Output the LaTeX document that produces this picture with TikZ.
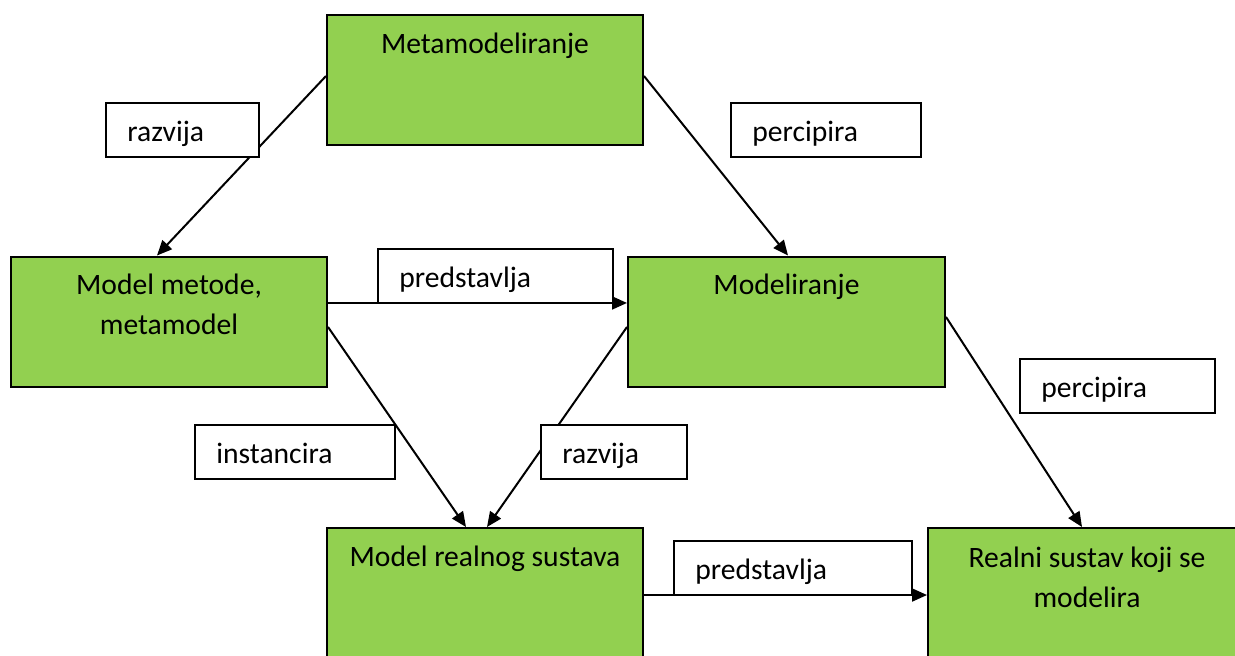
\documentclass[tikz,border=0pt]{standalone}
\usepackage{fontspec}
\setmainfont{Carlito}
\usetikzlibrary{arrows.meta,calc}
\definecolor{boxgreen}{RGB}{146,208,80}
\begin{document}
\begin{tikzpicture}[x=0.5pt,y=-0.5pt,
  gbox/.style={draw=black, line width=1pt, fill=boxgreen, inner sep=0pt},
  lbox/.style={draw=black, line width=1pt, fill=white, inner sep=0pt, minimum height=27pt},
  txt/.style={font=\fontsize{14.8pt}{17pt}\selectfont, inner sep=0pt, anchor=base},
  ltxt/.style={font=\fontsize{14.8pt}{17pt}\selectfont, inner sep=0pt, anchor=base west},
  arr/.style={line width=1pt, -{Triangle[length=7.5pt,width=6.5pt]}}]
\useasboundingbox (0,0) rectangle (1235,655);
\clip (0,0) rectangle (1235,655);
\fill[white] (0,0) rectangle (1235,655);

% green boxes
\node[gbox, minimum width=158pt, minimum height=65pt] (meta) at (485,80) {};
\node[gbox, minimum width=158pt, minimum height=65.25pt] (mm) at (169,321.75) {};
\node[gbox, minimum width=158.5pt, minimum height=65.25pt] (mod) at (786.5,321.75) {};
\node[gbox, minimum width=158pt, minimum height=71pt] (mr) at (485,599) {};
\node[gbox, minimum width=159pt, minimum height=71pt] (rs) at (1087,599) {};

% green box texts
\node[txt] (tmeta) at ($(meta.north)+(0,39)$) {Metamodeliranje};
\node[txt] (tmm1) at ($(mm.north)+(0,39)$) {Model metode,};
\node[txt] (tmm2) at ($(mm.north)+(0,79)$) {metamodel};
\node[txt] (tmod) at ($(mod.north)+(0,39)$) {Modeliranje};
\node[txt] (tmr) at ($(mr.north)+(0,39)$) {Model realnog sustava};
\node[txt] (trs1) at ($(rs.north)+(0,40)$) {Realni sustav koji se};
\node[txt] (trs2) at ($(rs.north)+(0,80)$) {modelira};

% connectors
\draw[arr] ([yshift=2pt]meta.west) -- ([xshift=-6pt]mm.north);
\draw[arr] ([yshift=2pt]meta.east) -- ([xshift=0.75pt]mod.north);
\draw[arr] ([yshift=9.4pt]mm.east) -- ([yshift=9.4pt]mod.west);
\draw[arr] ([yshift=-2.6pt]mm.east) -- ([xshift=-9.5pt]mr.north);
\draw[arr] ([yshift=-2.6pt]mod.west) -- ([xshift=1pt]mr.north);
\draw[arr] ([yshift=2.4pt]mod.east) -- ([xshift=-2.5pt]rs.north);
\draw[arr] ([yshift=2pt]mr.east) -- ([yshift=2pt]rs.west);

% label boxes
\node[lbox, minimum width=76.5pt] (l1) at (182.5,130) {};
\node[lbox, minimum width=95pt] (l2) at (826,130) {};
\node[lbox, minimum width=117.5pt] (l3) at (495.5,276) {};
\node[lbox, minimum width=97.5pt] (l4) at (1117.5,386) {};
\node[lbox, minimum width=100pt] (l5) at (295,452) {};
\node[lbox, minimum width=73pt] (l6) at (614,452) {};
\node[lbox, minimum width=119pt] (l7) at (793,568) {};

\node[ltxt] (t1) at ($(l1.north west)+(22,39)$) {razvija};
\node[ltxt] (t2) at ($(l2.north west)+(22,39)$) {percipira};
\node[ltxt] (t3) at ($(l3.north west)+(22,39)$) {predstavlja};
\node[ltxt] (t4) at ($(l4.north west)+(22,39)$) {percipira};
\node[ltxt] (t5) at ($(l5.north west)+(22,39)$) {instancira};
\node[ltxt] (t6) at ($(l6.north west)+(22,39)$) {razvija};
\node[ltxt] (t7) at ($(l7.north west)+(22,39)$) {predstavlja};
\end{tikzpicture}
\end{document}
